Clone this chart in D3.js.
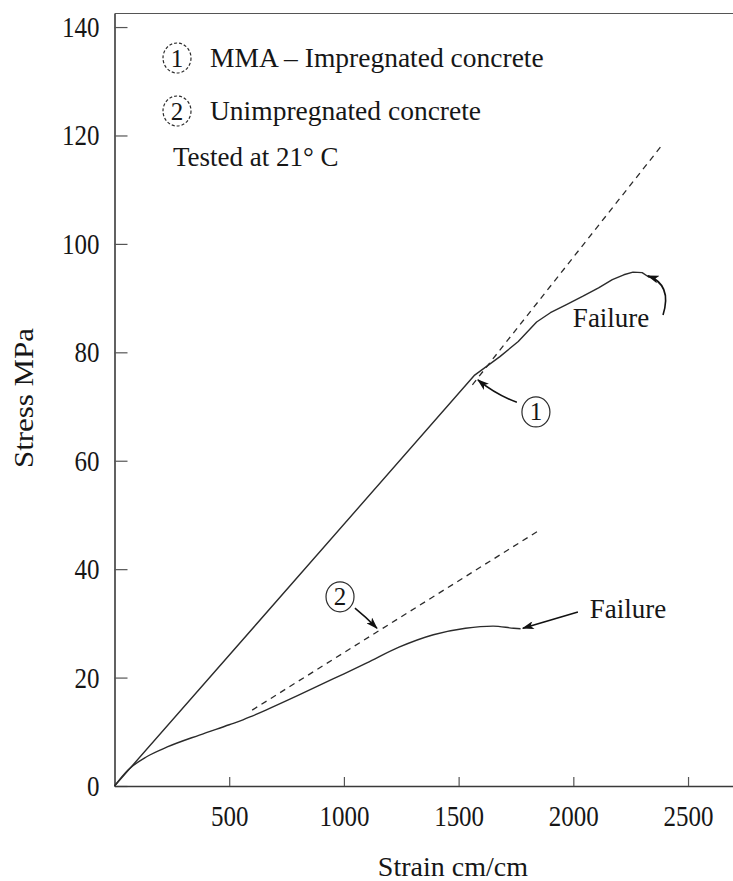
<!DOCTYPE html>
<html>
<head>
<meta charset="utf-8">
<script src="https://cdn.jsdelivr.net/npm/d3@7"></script>
<style>
body { margin: 0; background: #fff; }
text { font-family: "Liberation Serif", "Times New Roman", serif; fill: #161616; }
</style>
</head>
<body>
<svg id="chart" width="733" height="881"></svg>
<script>
//axis ticks
var strainTicks = [500, 1000, 1500, 2000, 2500];
var stressTicks = [0, 20, 40, 60, 80, 100, 120, 140];

//curve 1: MMA impregnated concrete (solid)
var strain1 = [0, 1570, 1680, 1760, 1800, 1840, 1900, 1970, 2040, 2110, 2170, 2220, 2260, 2300, 2332];
var stress1 = [0, 75.8, 79.2, 82.0, 83.8, 85.6, 87.3, 88.8, 90.3, 91.9, 93.4, 94.3, 94.8, 94.7, 93.8];
//tangent extension of curve 1 (dashed)
var strain1Lin = [1560, 2390];
var stress1Lin = [74.0, 118.4];

//curve 2: unimpregnated concrete (solid)
var strain2 = [0, 60, 140, 230, 370, 500, 560, 600, 660, 800, 950, 1100, 1240, 1390, 1530, 1650, 1740, 1770];
var stress2 = [0, 3.0, 5.4, 7.2, 9.4, 11.3, 12.2, 12.9, 14.0, 16.7, 19.7, 22.7, 25.6, 27.9, 29.1, 29.5, 29.1, 29.0];
//tangent extension of curve 2 (dashed)
var strain2Lin = [600, 1853];
var stress2Lin = [14.0, 47.2];

//texts
var legendNums = ["1", "2"];
var legendLabels = ["MMA \u2013 Impregnated concrete", "Unimpregnated concrete"];
var testNote = "Tested at 21\u00b0 C";
var xTitle = "Strain cm/cm";
var yTitle = "Stress MPa";

//annotations in data units [strain, stress]
var markNums = ["1", "2"];
var markPos = [[1837, 69.0], [983, 34.9]];
var failPos = [[1998, 84.7], [2072, 31.0]];
//arrows: start, control, end
var arrowStart = [[1754, 70.8], [2391, 86.9], [1048, 32.8], [2020, 32.1]];
var arrowCtrl  = [[1665, 72.1], [2432, 92.5], [1095, 31.2], [1900, 30.6]];
var arrowEnd   = [[1584, 74.9], [2325, 94.1], [1144, 29.1], [1780, 29.1]];

var svg = d3.select("#chart");
var ink = "#2b2b2b";

var xScale = d3.scaleLinear().domain([0, 2696]).range([114.5, 733]);
var yScale = d3.scaleLinear().domain([0, 142.5]).range([786, 13.5]);

drawAxes();
drawCurves();
drawLegend();
drawAnnotations();

function drawAxes()
{
    var yAxis = d3.axisLeft(yScale)
        .tickValues(stressTicks)
        .tickSizeInner(-13)
        .tickSizeOuter(0)
        .tickPadding(15)
        .tickFormat(d3.format("d"));
    var gy = svg.append("g").attr("transform", "translate(114.5,0)").call(yAxis);
    gy.selectAll("text")
        .style("font-size", "25px")
        .attr("transform", "scale(1,1.18)");

    var xAxis = d3.axisBottom(xScale)
        .tickValues(strainTicks)
        .tickSizeInner(-9)
        .tickSizeOuter(0)
        .tickFormat(d3.format("d"));
    var gx = svg.append("g").attr("transform", "translate(0,786)").call(xAxis);
    gx.selectAll("text")
        .style("font-size", "25px")
        .attr("dy", null)
        .attr("y", 33.5)
        .attr("transform", "scale(1,1.18)");

    svg.selectAll(".domain").attr("stroke", "#3a3a3a").attr("stroke-width", 1.6);
    svg.selectAll(".tick line").attr("stroke", "#555").attr("stroke-width", 1.2);
    svg.selectAll(".tick text").attr("fill", "#161616");

    //top frame line
    svg.append("line")
        .attr("x1", xScale.range()[0]).attr("x2", xScale.range()[1])
        .attr("y1", yScale(142.5)).attr("y2", yScale(142.5))
        .attr("stroke", "#555").attr("stroke-width", 1.2);

    svg.append("text")
        .attr("x", (xScale(1450) + xScale(1500)) / 2)
        .attr("y", 876)
        .attr("text-anchor", "middle")
        .style("font-size", "28px")
        .text(xTitle);

    svg.append("text")
        .attr("transform", "translate(33,398) rotate(-90)")
        .attr("text-anchor", "middle")
        .attr("textLength", 140)
        .attr("lengthAdjust", "spacingAndGlyphs")
        .style("font-size", "27px")
        .text(yTitle);
}

function toPoints(xs, ys)
{
    return xs.map(function(x, i) { return [x, ys[i]]; });
}

function drawCurves()
{
    var line = d3.line()
        .x(function(d) { return xScale(d[0]); })
        .y(function(d) { return yScale(d[1]); });
    var smooth = d3.line()
        .x(function(d) { return xScale(d[0]); })
        .y(function(d) { return yScale(d[1]); })
        .curve(d3.curveMonotoneX);

    svg.append("path").datum(toPoints(strain1Lin, stress1Lin))
        .attr("d", line).attr("fill", "none")
        .attr("stroke", ink).attr("stroke-width", 1.3).attr("stroke-dasharray", "6,5");
    svg.append("path").datum(toPoints(strain2Lin, stress2Lin))
        .attr("d", line).attr("fill", "none")
        .attr("stroke", ink).attr("stroke-width", 1.3).attr("stroke-dasharray", "6,5");

    //curve 1 is straight up to the knee, so plain segments
    svg.append("path").datum(toPoints(strain1, stress1))
        .attr("d", line).attr("fill", "none")
        .attr("stroke", ink).attr("stroke-width", 1.4).attr("stroke-linejoin", "round");
    svg.append("path").datum(toPoints(strain2, stress2))
        .attr("d", smooth).attr("fill", "none")
        .attr("stroke", ink).attr("stroke-width", 1.4);
}

function circledNum(x, y, num, dashed)
{
    var g = svg.append("g").attr("transform", "translate(" + x + "," + y + ")");
    g.append("ellipse")
        .attr("rx", 14).attr("ry", 15)
        .attr("fill", "none").attr("stroke", ink).attr("stroke-width", 1.2)
        .attr("stroke-dasharray", dashed ? "3,2" : null);
    g.append("text")
        .attr("y", 8.5)
        .attr("text-anchor", "middle")
        .style("font-size", "25px")
        .text(num);
}

function drawLegend()
{
    var rows = [67, 120];
    for(var i = 0; i < legendLabels.length; i++)
    {
        circledNum(177, rows[i] - 9, legendNums[i], true);
        svg.append("text")
            .attr("x", 210).attr("y", rows[i])
            .style("font-size", "27.5px")
            .text(legendLabels[i]);
    }
    svg.append("text")
        .attr("x", 173).attr("y", 166)
        .style("font-size", "27px")
        .text(testNote);
}

function drawAnnotations()
{
    svg.append("defs").append("marker")
        .attr("id", "head")
        .attr("viewBox", "0 0 12 8")
        .attr("refX", 11).attr("refY", 4)
        .attr("markerWidth", 13).attr("markerHeight", 8)
        .attr("markerUnits", "userSpaceOnUse")
        .attr("orient", "auto")
        .append("path")
        .attr("d", "M0,0 L12,4 L0,8 L3,4 Z")
        .attr("fill", "#111");

    for(var i = 0; i < markNums.length; i++)
    {
        circledNum(xScale(markPos[i][0]), yScale(markPos[i][1]), markNums[i], false);
        svg.append("text")
            .attr("x", xScale(failPos[i][0])).attr("y", yScale(failPos[i][1]))
            .style("font-size", "27px")
            .text("Failure");
    }

    for(var j = 0; j < arrowStart.length; j++)
    {
        var p = d3.path();
        p.moveTo(xScale(arrowStart[j][0]), yScale(arrowStart[j][1]));
        p.quadraticCurveTo(xScale(arrowCtrl[j][0]), yScale(arrowCtrl[j][1]),
                           xScale(arrowEnd[j][0]), yScale(arrowEnd[j][1]));
        svg.append("path")
            .attr("d", p.toString())
            .attr("fill", "none")
            .attr("stroke", "#111").attr("stroke-width", 1.6)
            .attr("marker-end", "url(#head)");
    }
}
</script>
</body>
</html>
